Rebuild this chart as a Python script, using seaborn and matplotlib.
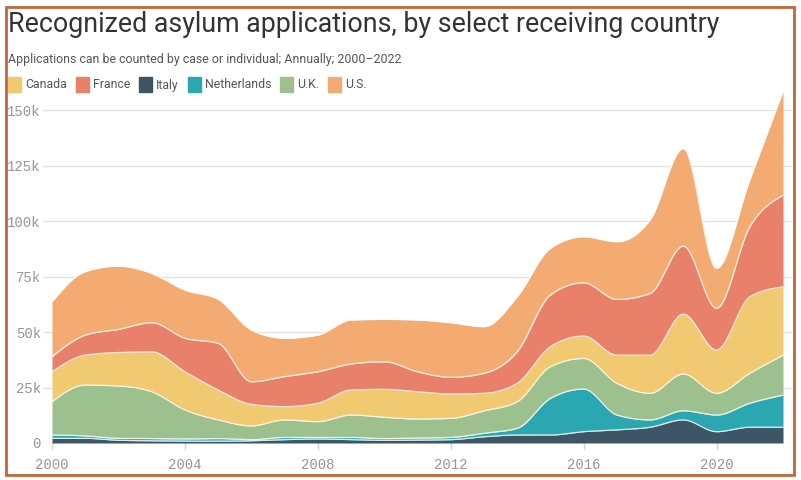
import numpy as np
import pandas as pd
import matplotlib
matplotlib.use("Agg")
import matplotlib.pyplot as plt
from matplotlib.patches import Rectangle
import seaborn as sns

years = list(range(2000, 2023))

# values in thousands of recognized applications
italy = [2.1, 2.1, 1.2, 1.0, 0.8, 0.8, 1.0, 1.5, 1.8, 1.5, 1.2, 1.3, 1.5,
         2.8, 3.6, 3.6, 5.1, 5.9, 7.1, 10.4, 5.1, 7.1, 7.1]
netherlands = [1.5, 1.1, 0.9, 1.0, 1.0, 1.2, 0.5, 1.0, 0.7, 1.0, 0.8, 0.9, 1.0,
               1.6, 3.0, 16.5, 19.2, 6.7, 3.3, 4.1, 7.5, 10.8, 14.5]
uk = [15.0, 22.9, 23.6, 21.1, 13.1, 8.4, 6.2, 7.9, 7.1, 10.1, 9.6, 8.6, 8.6,
      10.1, 12.0, 14.3, 13.8, 14.3, 12.0, 16.6, 9.8, 13.5, 18.0]
canada = [13.5, 13.5, 15.1, 18.0, 17.2, 13.5, 9.7, 6.0, 8.3, 11.3, 12.6, 12.3, 11.0,
          7.9, 8.3, 9.0, 10.1, 12.7, 17.2, 27.0, 19.5, 34.5, 30.8]
france = [6.8, 9.0, 10.4, 13.1, 15.1, 21.0, 10.2, 13.5, 14.2, 11.7, 12.4, 9.0, 7.5,
          9.0, 14.2, 23.3, 24.0, 25.1, 27.8, 30.6, 18.8, 31.5, 41.3]
us = [24.7, 28.6, 28.5, 22.2, 21.7, 19.8, 23.3, 17.3, 16.5, 19.8, 19.1, 23.3, 24.6,
      21.0, 24.8, 21.0, 20.7, 26.0, 33.1, 44.0, 18.0, 21.1, 46.7]

legend_order = ["Canada", "France", "Italy", "Netherlands", "U.K.", "U.S."]
stack_order = ["Italy", "Netherlands", "U.K.", "Canada", "France", "U.S."]
series = {"Italy": italy, "Netherlands": netherlands, "U.K.": uk,
          "Canada": canada, "France": france, "U.S.": us}
colors = {"Canada": "#F0C970", "France": "#E8806A", "Italy": "#3D5565",
          "Netherlands": "#2AA7B0", "U.K.": "#9DC08F", "U.S.": "#F3AB72"}

df = pd.DataFrame(series, index=years) * 1000


def monotone(x, y, n=24):
    # monotone cubic curve (like d3 curveMonotoneX) for drawing only
    x = np.asarray(x, float)
    y = np.asarray(y, float)
    h = np.diff(x)
    s = np.diff(y) / h
    m = np.zeros_like(y)
    for i in range(1, len(y) - 1):
        p = (s[i - 1] * h[i] + s[i] * h[i - 1]) / (h[i - 1] + h[i])
        m[i] = (np.sign(s[i - 1]) + np.sign(s[i])) * min(abs(s[i - 1]), abs(s[i]), 0.5 * abs(p))
    m[0] = (3 * s[0] - m[1]) / 2
    m[-1] = (3 * s[-1] - m[-2]) / 2
    xs, ys = [], []
    for i in range(len(x) - 1):
        t = np.linspace(0, 1, n, endpoint=(i == len(x) - 2))
        h00 = 2 * t**3 - 3 * t**2 + 1
        h10 = t**3 - 2 * t**2 + t
        h01 = -2 * t**3 + 3 * t**2
        h11 = t**3 - t**2
        xs.append(x[i] + t * h[i])
        ys.append(h00 * y[i] + h10 * h[i] * m[i] + h01 * y[i + 1] + h11 * h[i] * m[i + 1])
    return np.concatenate(xs), np.concatenate(ys)


sns.set_theme(style="white")
fig = plt.figure(figsize=(8.01, 4.8), dpi=100)
ax = fig.add_axes([43 / 801, 37 / 480, 749 / 801, 355 / 480])

lower_x, lower_y = monotone(years, np.zeros(len(years)))
cum = np.zeros(len(years))
edges = []
for name in stack_order:
    cum = cum + df[name].values
    sx, sy = monotone(years, cum)
    ax.fill_between(sx, lower_y, sy, color=colors[name], linewidth=0, zorder=2)
    edges.append(pd.DataFrame({"year": sx, "value": sy, "layer": name}))
    lower_y = sy

edge_df = pd.concat(edges)
sns.lineplot(data=edge_df, x="year", y="value", units="layer", estimator=None,
             color="white", linewidth=0.9, alpha=0.8, ax=ax, zorder=3, legend=False)

ax.set_xlim(2000 - 9 / 33.25, 2022 + 9 / 33.25)
ax.set_ylim(0, 160000)
ax.set_yticks(range(0, 150001, 25000))
ax.set_yticklabels(["0"] + [f"{v}k" for v in range(25, 151, 25)])
ax.set_xticks(range(2000, 2021, 4))
ax.set_xticklabels([str(y) for y in range(2000, 2021, 4)])
ax.grid(axis="y", color="#E3E3E3", linewidth=1, zorder=0)
ax.grid(axis="x", visible=False)
for sp in ax.spines.values():
    sp.set_visible(False)
for xt in range(2000, 2021, 4):
    ax.plot([xt, xt], [-2500, 0], color="#D5D5D5", linewidth=1, clip_on=False, zorder=1)
ax.tick_params(axis="both", length=0, colors="#959595", labelsize=10)
ax.tick_params(axis="y", pad=1.5)
ax.tick_params(axis="x", pad=11)
for lab in ax.get_xticklabels() + ax.get_yticklabels():
    lab.set_family("Liberation Mono")
ax.set_xlabel("")
ax.set_ylabel("")

fig.text(8 / 801, 1 - 25 / 480, "Recognized asylum applications, by select receiving country",
         fontsize=19.25, family="Roboto", color="#333333", va="center", ha="left")
fig.text(8 / 801, 1 - 59 / 480, "Applications can be counted by case or individual; Annually; 2000\u20132022",
         fontsize=8.9, family="Roboto", color="#555555", va="center", ha="left")

lx = 8
for name in legend_order:
    fig.add_artist(Rectangle((lx / 801, 1 - 92 / 480), 13 / 801, 15 / 480,
                             transform=fig.transFigure, color=colors[name]))
    t = fig.text((lx + 17) / 801, 1 - 85 / 480, name, fontsize=8.8, family="Roboto",
                 color="#555555", va="center", ha="left")
    fig.canvas.draw()
    bb = t.get_window_extent()
    lx = bb.x1 + 9

fig.add_artist(Rectangle((5.5 / 801, 1 - 475 / 480), 788 / 801, 468 / 480,
                         transform=fig.transFigure, fill=False,
                         edgecolor="#C86538", linewidth=2))

fig.savefig("out.png", dpi=100)
